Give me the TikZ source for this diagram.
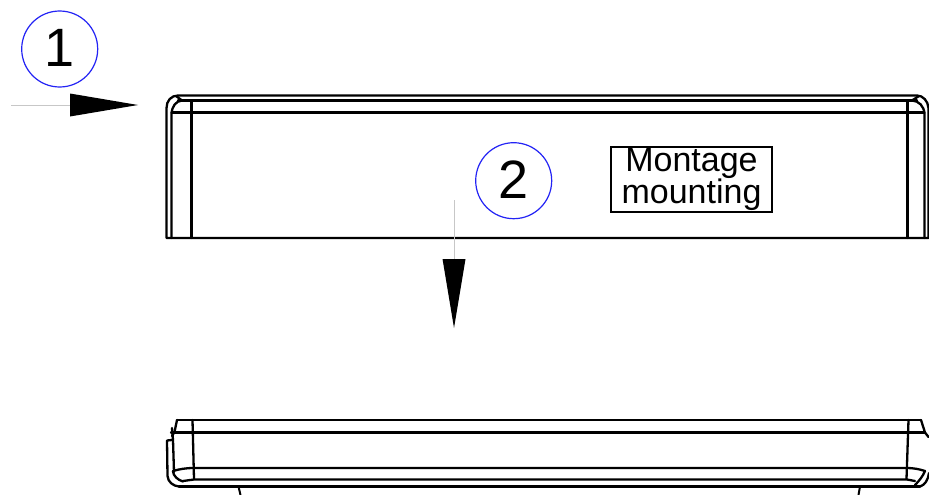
\documentclass[tikz,border=0pt]{standalone}
\usepackage{fontspec}
\setmainfont{Liberation Sans}
\definecolor{ringblue}{RGB}{35,35,245}
\tikzset{
  part/.style={line width=2.3pt,black,line join=round,line cap=round},
  thin part/.style={line width=2pt,black,line join=round},
  lead/.style={line width=0.9pt,black!22},
  tipshape/.style={fill=black,draw=none},
  callout/.style={circle,draw=ringblue,line width=1.2pt,minimum size=76pt,inner sep=0pt,font=\fontsize{54}{54}\selectfont},
  labelbox/.style={draw=black,line width=1.1pt,minimum width=161pt,minimum height=65pt,inner sep=0pt,align=center,font=\fontsize{34}{33}\selectfont}
}
\begin{document}
\begin{tikzpicture}[x=1pt,y=-1pt]
\useasboundingbox (0,0) rectangle (929,495);
\fill[white] (0,0) rectangle (929,495);
% upper view
\draw[part] (166.5,238) -- (166.5,108) .. controls (166.5,101) and (171,95.5) .. (178,95.5) -- (917,95.5) .. controls (923,95.5) and (928,101) .. (928.5,108) -- (928.5,238) -- cycle;
\draw[part] (178,100.5) -- (917,100.5);
\draw[part] (171.5,238) -- (171.5,114) .. controls (172,106) and (176,101) .. (182,100.5);
\draw[part] (924.5,238) -- (924.5,114) .. controls (924,106) and (919,101) .. (912,100.5);
\draw[part] (171.5,112.5) -- (924.5,112.5);
\draw[part] (191.5,100.5) -- (191.5,238);
\draw[part] (907.5,100.5) -- (907.5,238);
\draw[part] (176,96) -- (182,100.5);
\draw[part] (919,96) -- (912,100.5);
% lower view
\draw[part] (177,420) -- (921,420);
\draw[part] (171,432.5) -- (925,432.5);
\draw[part] (173,471) .. controls (180,469) and (186,468) .. (194,468) -- (907,468) .. controls (913,468) and (919,469) .. (925,471);
\draw[part] (183,481) -- (194,479.5) -- (907,479.5) -- (915,481);
\draw[part] (179,486.5) -- (920,486.5);
\draw[part] (177,420) -- (174.5,432) -- (172,436);
\draw[part] (921,420) -- (925,432.5) -- (928.5,437);
\draw[part] (192.5,420) -- (194,479);
\draw[part] (908.5,420) -- (906.5,479);
\draw[part] (172,428) -- (173,440) -- (174,472);
\draw[part] (172,440) -- (167,440.5) -- (167.5,476) .. controls (168,482) and (173,486) .. (179,486.5);
\draw[part] (173,471) .. controls (173,476) and (178,480) .. (183,481.5);
\draw[part] (929,473) .. controls (928,480) and (925,485) .. (920,486.5);
\draw[part] (925,471) .. controls (923,476) and (919,481) .. (915,485);
\draw[thin part] (238.5,486.5) -- (240.5,495);
\draw[thin part] (860,486.5) -- (858.5,495);
% callouts
\node[callout] (c1) at (59.7,49) {\raisebox{2pt}{1}};
\node[callout] (c2) at (513.7,180.7) {\raisebox{3pt}{2}};
\node[labelbox] (lab) at (691.5,179.5) {\raisebox{2pt}{Montage}\\[-1pt]\raisebox{2pt}{mounting}};
% arrows
\coordinate (a1s) at (11,105);
\coordinate (a1b) at (70,105);
\coordinate (a1t) at (138,105);
\coordinate (a2s) at (454,200);
\coordinate (a2b) at (454,259);
\coordinate (a2t) at (454,328);
\draw[lead] (a1s) -- (a1b);
\draw[lead] (a2s) -- (a2b);
\fill[tipshape] (70,93.5) -- (a1t) -- (70,116.5) -- cycle;
\fill[tipshape] (442.5,259) -- (a2t) -- (465.5,259) -- cycle;
\end{tikzpicture}
\end{document}
